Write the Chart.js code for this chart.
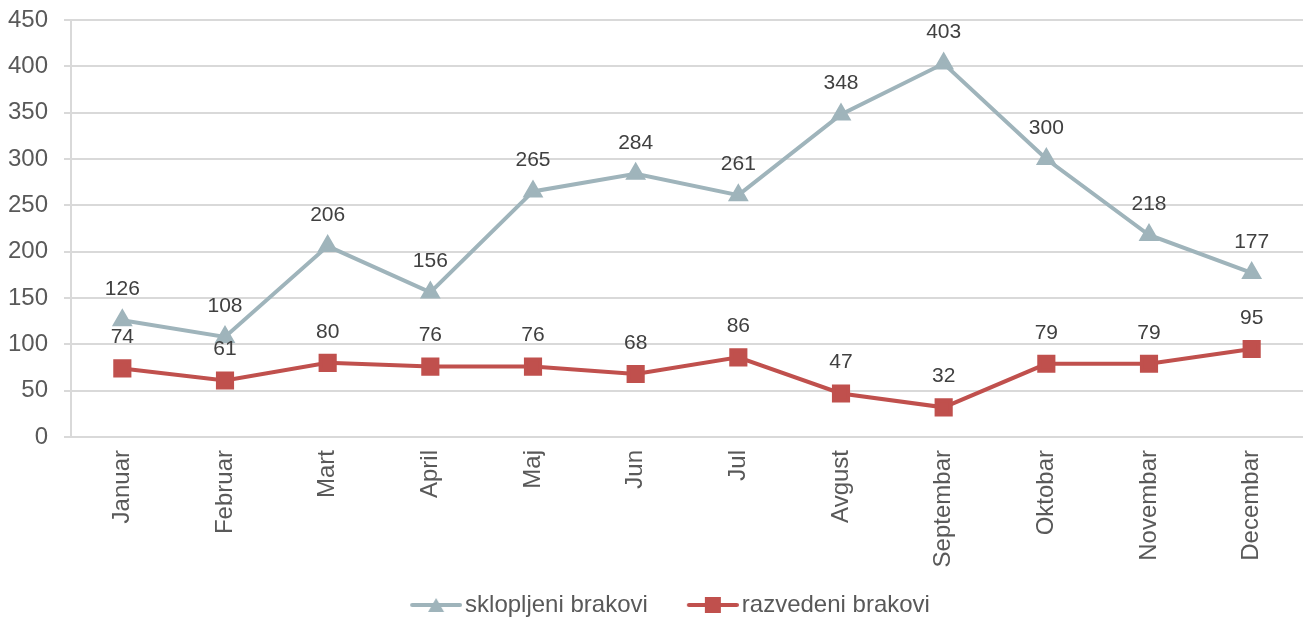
<!DOCTYPE html>
<html>
<head>
<meta charset="utf-8">
<script src="https://cdn.jsdelivr.net/npm/chart.js@4/dist/chart.umd.min.js"></script>
<style>
  html, body { margin: 0; padding: 0; background: #fff; }
  #wrap { width: 1304px; height: 617px; }
</style>
</head>
<body>
<div id="wrap"><canvas id="chart"></canvas></div>
<script>
// months (x axis)
var months = ["Januar", "Februar", "Mart", "April", "Maj", "Jun", "Jul", "Avgust", "Septembar", "Oktobar", "Novembar", "Decembar"]
// married / divorced per month
var sklopljeni = [126, 108, 206, 156, 265, 284, 261, 348, 403, 300, 218, 177]
var razvedeni = [74, 61, 80, 76, 76, 68, 86, 47, 32, 79, 79, 95]
var seriesNames = ["sklopljeni brakovi", "razvedeni brakovi"]

var grayCol = "#9FB4BB"
var redCol = "#C0504D"
var textCol = "#595959"
var fontName = "'Liberation Sans', Arial, sans-serif"

// legend sample: line with marker, drawn at the right end of a wider image
function legendSample(color, shape) {
	var c = document.createElement("canvas")
	c.width = 98; c.height = 18
	var ctx = c.getContext("2d")
	ctx.strokeStyle = color
	ctx.lineWidth = 4
	ctx.lineCap = "round"
	ctx.beginPath(); ctx.moveTo(48, 9); ctx.lineTo(96, 9); ctx.stroke()
	ctx.fillStyle = color
	if (shape == "triangle") {
		ctx.beginPath(); ctx.moveTo(72, 2); ctx.lineTo(80, 16); ctx.lineTo(64, 16); ctx.closePath(); ctx.fill()
	} else {
		ctx.fillRect(64, 1, 16, 16)
	}
	return c
}
var samples = [legendSample(grayCol, "triangle"), legendSample(redCol, "rect")]

// value labels above each point
var valueLabels = {
	id: "valueLabels",
	afterDatasetsDraw: function (chart) {
		var ctx = chart.ctx
		ctx.save()
		ctx.font = "21px " + fontName
		ctx.fillStyle = "#404040"
		ctx.textAlign = "center"
		ctx.textBaseline = "middle"
		chart.data.datasets.forEach(function (ds, i) {
			chart.getDatasetMeta(i).data.forEach(function (pt, j) {
				ctx.fillText(ds.data[j], pt.x, pt.y - 31)
			})
		})
		ctx.restore()
	}
}

new Chart(document.getElementById("chart"), {
	type: "line",
	data: {
		labels: months,
		datasets: [{
			label: seriesNames[0],
			data: sklopljeni,
			borderColor: grayCol,
			backgroundColor: grayCol,
			borderWidth: 4,
			pointStyle: "triangle",
			pointRadius: 8,
			pointHoverRadius: 8,
			tension: 0
		}, {
			label: seriesNames[1],
			data: razvedeni,
			borderColor: redCol,
			backgroundColor: redCol,
			borderWidth: 4,
			pointStyle: "rect",
			pointRadius: 10,
			pointHoverRadius: 10,
			tension: 0
		}]
	},
	options: {
		responsive: true,
		maintainAspectRatio: false,
		animation: false,
		// point size would otherwise push the plot in from the right edge
		layout: { autoPadding: false, padding: { left: 0, right: 1, top: 20, bottom: -10 } },
		scales: {
			x: {
				offset: true,
				grid: { display: false, drawTicks: true, tickLength: 13 },
				border: { display: false },
				ticks: {
					color: textCol,
					font: { size: 24, family: fontName },
					minRotation: 90, maxRotation: 90,
					padding: 0,
					autoSkip: false
				},
				afterFit: function (scale) {
					scale.height = 154
					scale.paddingLeft = 0
					scale.paddingRight = 0
				}
			},
			y: {
				min: 0, max: 450,
				grid: { color: "#D9D9D9", lineWidth: 2, tickLength: 7 },
				border: { display: true, color: "#D9D9D9", width: 2 },
				ticks: {
					stepSize: 50,
					color: textCol,
					font: { size: 24, family: fontName },
					padding: 16
				},
				afterFit: function (scale) {
					scale.width = 71
					scale.paddingTop = 0
					scale.paddingBottom = 0
				}
			}
		},
		plugins: {
			tooltip: { enabled: false },
			legend: {
				position: "bottom",
				labels: {
					usePointStyle: true,
					pointStyleWidth: 80,
					padding: 2,
					color: textCol,
					font: { size: 24, family: fontName, lineHeight: 1 },
					generateLabels: function (chart) {
						return chart.data.datasets.map(function (ds, i) {
							return {
								text: ds.label,
								pointStyle: samples[i],
								fillStyle: ds.borderColor,
								strokeStyle: ds.borderColor,
								lineWidth: 0,
								fontColor: textCol,
								datasetIndex: i
							}
						})
					}
				}
			}
		}
	},
	plugins: [valueLabels]
})
</script>
</body>
</html>
